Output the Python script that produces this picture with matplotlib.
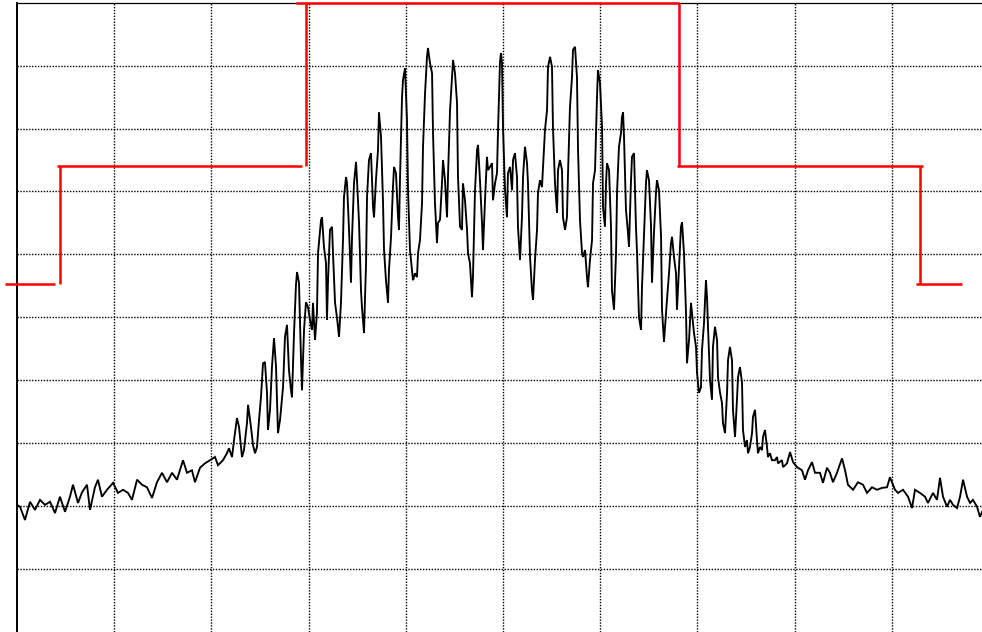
import matplotlib
matplotlib.use("Agg")
import matplotlib.pyplot as plt
import numpy as np

# ---- Spectrum trace: frequency offset (MHz) and level (dBm) ----
freq_mhz = [
    -5.000, -4.969, -4.918, -4.866, -4.815, -4.763, -4.712, -4.660, -4.609, -4.558,
    -4.506, -4.455, -4.424, -4.372, -4.331, -4.280, -4.249, -4.198, -4.167, -4.126,
    -4.074, -4.012, -3.961, -3.909, -3.858, -3.817, -3.765, -3.714, -3.663, -3.611,
    -3.560, -3.508, -3.457, -3.405, -3.354, -3.292, -3.251, -3.200, -3.169, -3.117,
    -3.066, -3.014, -2.963, -2.932, -2.881, -2.840, -2.819, -2.788, -2.767, -2.737,
    -2.716, -2.685, -2.665, -2.634, -2.623, -2.593, -2.572, -2.551, -2.531, -2.510,
    -2.490, -2.469, -2.449, -2.428, -2.418, -2.397, -2.377, -2.356, -2.335, -2.315,
    -2.294, -2.263, -2.243, -2.222, -2.202, -2.181, -2.171, -2.150, -2.130, -2.119,
    -2.099, -2.078, -2.068, -2.047, -2.027, -2.006, -1.986, -1.965, -1.955, -1.934,
    -1.914, -1.903, -1.872, -1.862, -1.842, -1.821, -1.811, -1.800, -1.780, -1.759,
    -1.749, -1.728, -1.708, -1.687, -1.667, -1.646, -1.636, -1.615, -1.605, -1.584,
    -1.564, -1.553, -1.533, -1.512, -1.502, -1.481, -1.461, -1.451, -1.430, -1.409,
    -1.399, -1.379, -1.358, -1.337, -1.327, -1.307, -1.286, -1.276, -1.255, -1.235,
    -1.224, -1.204, -1.183, -1.173, -1.152, -1.132, -1.121, -1.101, -1.080, -1.070,
    -1.060, -1.039, -1.029, -1.008, -0.988, -0.977, -0.957, -0.936, -0.926, -0.905,
    -0.885, -0.874, -0.854, -0.833, -0.823, -0.802, -0.782, -0.772, -0.751, -0.730,
    -0.720, -0.700, -0.679, -0.669, -0.648, -0.628, -0.617, -0.597, -0.576, -0.566,
    -0.545, -0.525, -0.514, -0.494, -0.473, -0.463, -0.442, -0.422, -0.412, -0.391,
    -0.370, -0.360, -0.340, -0.319, -0.309, -0.288, -0.267, -0.257, -0.237, -0.216,
    -0.206, -0.185, -0.165, -0.154, -0.134, -0.113, -0.103, -0.082, -0.062, -0.051,
    -0.031, -0.021, -0.010, 0.000, 0.021, 0.041, 0.051, 0.072, 0.093, 0.103,
    0.123, 0.144, 0.154, 0.175, 0.195, 0.206, 0.226, 0.247, 0.257, 0.278,
    0.298, 0.309, 0.329, 0.350, 0.360, 0.381, 0.401, 0.412, 0.432, 0.453,
    0.463, 0.484, 0.504, 0.514, 0.535, 0.556, 0.566, 0.586, 0.607, 0.617,
    0.638, 0.658, 0.669, 0.689, 0.710, 0.720, 0.741, 0.761, 0.772, 0.792,
    0.813, 0.823, 0.844, 0.864, 0.874, 0.895, 0.916, 0.926, 0.947, 0.967,
    0.977, 0.998, 1.019, 1.029, 1.049, 1.060, 1.070, 1.091, 1.111, 1.121,
    1.142, 1.163, 1.173, 1.193, 1.214, 1.224, 1.235, 1.245, 1.265, 1.286,
    1.296, 1.317, 1.327, 1.348, 1.368, 1.379, 1.399, 1.420, 1.430, 1.451,
    1.471, 1.481, 1.502, 1.523, 1.533, 1.553, 1.574, 1.584, 1.605, 1.626,
    1.636, 1.656, 1.677, 1.687, 1.708, 1.728, 1.739, 1.759, 1.780, 1.790,
    1.811, 1.831, 1.842, 1.862, 1.883, 1.893, 1.914, 1.934, 1.944, 1.965,
    1.986, 1.996, 2.016, 2.037, 2.047, 2.068, 2.088, 2.099, 2.109, 2.130,
    2.150, 2.160, 2.181, 2.202, 2.212, 2.233, 2.253, 2.263, 2.284, 2.305,
    2.315, 2.335, 2.356, 2.366, 2.387, 2.407, 2.418, 2.438, 2.459, 2.469,
    2.490, 2.510, 2.521, 2.541, 2.562, 2.572, 2.593, 2.613, 2.623, 2.644,
    2.665, 2.675, 2.695, 2.716, 2.726, 2.747, 2.767, 2.798, 2.819, 2.829,
    2.870, 2.881, 2.922, 2.953, 2.984, 3.025, 3.076, 3.107, 3.138, 3.179,
    3.210, 3.261, 3.292, 3.333, 3.364, 3.395, 3.436, 3.488, 3.519, 3.549,
    3.601, 3.652, 3.704, 3.745, 3.796, 3.848, 3.899, 3.951, 3.981, 4.033,
    4.064, 4.115, 4.167, 4.208, 4.239, 4.290, 4.342, 4.372, 4.424, 4.465,
    4.496, 4.527, 4.568, 4.599, 4.630, 4.671, 4.702, 4.733, 4.774, 4.805,
    4.835, 4.877, 4.907, 4.938,
]
level_dbm = [
    -79.8, -80.1, -82.2, -79.3, -80.6, -79.0, -79.8, -79.3, -81.1, -78.5,
    -80.9, -78.5, -76.6, -79.5, -77.8, -76.6, -80.6, -77.0, -75.8, -78.5,
    -77.4, -76.3, -77.9, -77.4, -77.9, -79.0, -75.8, -76.6, -77.0, -78.7,
    -76.2, -74.7, -76.2, -74.7, -75.8, -72.7, -74.7, -74.3, -76.2, -73.9,
    -73.2, -72.7, -72.2, -73.5, -72.7, -71.6, -70.8, -72.2, -69.5, -66.0,
    -67.4, -72.2, -71.1, -66.8, -63.9, -67.4, -70.3, -71.6, -70.6, -66.3,
    -62.7, -57.3, -57.1, -62.0, -67.9, -64.7, -57.9, -53.3, -57.9, -68.4,
    -66.3, -61.1, -53.1, -51.2, -58.4, -61.6, -62.7, -52.5, -44.9, -42.8,
    -44.5, -56.8, -61.6, -52.0, -47.6, -48.4, -50.4, -52.0, -47.7, -53.6,
    -49.3, -39.8, -34.5, -34.1, -38.8, -41.4, -50.4, -44.1, -36.1, -35.6,
    -39.8, -47.7, -50.0, -53.1, -47.7, -37.7, -30.9, -27.7, -28.7, -36.1,
    -44.5, -37.2, -28.7, -25.3, -28.2, -35.0, -45.7, -48.4, -52.5, -41.4,
    -30.9, -25.0, -23.9, -32.5, -34.1, -28.2, -23.4, -17.4, -21.3, -31.4,
    -39.3, -44.1, -47.7, -42.5, -37.2, -29.3, -26.1, -27.1, -34.1, -36.1,
    -28.2, -15.0, -12.3, -10.4, -18.6, -29.8, -39.3, -42.5, -44.1, -43.0,
    -43.6, -39.8, -37.7, -31.8, -22.9, -14.4, -8.6, -7.2, -9.6, -11.2,
    -20.7, -31.8, -38.2, -35.0, -34.5, -28.7, -25.0, -28.2, -34.1, -27.7,
    -17.1, -11.8, -9.1, -11.2, -15.9, -27.7, -35.6, -36.1, -28.7, -31.4,
    -36.1, -39.8, -41.4, -46.8, -43.6, -29.8, -23.4, -22.6, -28.2, -35.0,
    -39.3, -31.4, -24.5, -26.6, -26.1, -25.5, -31.4, -28.7, -27.1, -20.2,
    -9.4, -8.0, -9.6, -19.8, -29.8, -34.1, -27.1, -26.1, -29.8, -25.0,
    -23.9, -27.7, -35.6, -40.9, -34.1, -27.7, -22.9, -25.5, -28.7, -40.4,
    -45.7, -47.2, -40.9, -36.1, -30.2, -28.2, -29.3, -26.1, -20.2, -17.1,
    -10.2, -8.6, -10.2, -19.8, -28.7, -33.4, -26.6, -25.0, -26.6, -34.1,
    -36.1, -34.1, -27.1, -16.6, -11.8, -7.5, -7.0, -11.8, -23.4, -34.5,
    -39.8, -40.4, -39.3, -43.6, -45.2, -40.9, -37.7, -28.7, -26.6, -15.0,
    -10.7, -12.8, -19.8, -32.5, -35.6, -28.7, -25.5, -26.6, -35.6, -45.7,
    -48.8, -39.8, -30.2, -22.9, -20.7, -18.2, -17.4, -21.3, -32.9, -36.6,
    -38.8, -28.2, -24.5, -23.9, -35.6, -39.8, -50.0, -52.0, -45.2, -36.6,
    -28.7, -26.6, -28.2, -35.6, -44.5, -36.6, -30.2, -28.2, -29.8, -37.2,
    -48.8, -53.9, -49.3, -47.2, -43.0, -38.2, -37.2, -40.4, -43.0, -48.8,
    -42.0, -35.6, -34.9, -39.8, -49.3, -57.3, -53.6, -47.7, -49.3, -52.5,
    -54.7, -58.8, -62.0, -61.1, -55.2, -50.9, -44.1, -46.8, -51.5, -60.0,
    -63.1, -54.7, -51.5, -53.6, -59.5, -62.0, -63.6, -66.8, -68.4, -62.0,
    -56.8, -54.7, -56.8, -64.7, -69.0, -63.1, -59.5, -57.9, -60.4, -67.9,
    -70.6, -69.5, -71.6, -70.6, -68.4, -65.8, -64.7, -69.5, -71.6, -70.6,
    -71.1, -69.0, -67.9, -70.6, -72.2, -71.6, -72.7, -72.7, -72.2, -73.2,
    -72.7, -73.8, -73.2, -71.4, -73.0, -73.8, -74.3, -75.8, -74.3, -73.0,
    -74.7, -74.7, -76.3, -73.9, -74.7, -76.2, -74.7, -72.4, -74.3, -76.6,
    -77.4, -76.2, -76.6, -77.9, -77.0, -77.4, -77.1, -77.0, -75.4, -77.4,
    -77.9, -77.4, -78.5, -80.3, -77.4, -77.9, -78.5, -79.5, -77.9, -79.0,
    -75.5, -78.5, -80.1, -79.0, -79.8, -80.3, -78.5, -75.8, -78.5, -79.5,
    -79.0, -80.1, -81.7, -80.6,
]

# ---- Spectrum emission mask (red): horizontal and vertical pieces ----
mask_h_start = [-5.123, -4.588, -2.130, 1.790, 4.249]
mask_h_stop = [-4.609, -2.068, 1.811, 4.321, 4.722]
mask_h_level = [-44.7, -25.9, 0.0, -25.9, -44.7]
mask_v_freq = [-4.558, -2.027, 1.811, 4.290]
mask_v_low = [-44.7, -25.9, -25.9, -44.7]
mask_v_high = [-25.9, 0.0, 0.0, -25.9]

x_grid = [-4, -3, -2, -1, 0, 1, 2, 3, 4]
y_grid = [-90, -80, -70, -60, -50, -40, -30, -20, -10]

W, H, DPI = 982, 632, 100
fig = plt.figure(figsize=(W / DPI, H / DPI), dpi=DPI)
fig.patch.set_facecolor("white")
ax = fig.add_axes([17 / W, 0.0, 972 / W, (H - 2.7) / H])
ax.set_xlim(-5, 5)
ax.set_ylim(-100, 0)
ax.set_facecolor("white")

for xv in x_grid:
    ax.axvline(xv, color="black", lw=1.0, ls=(0, (1, 1.1)), zorder=1)
for yv in y_grid:
    ax.axhline(yv, color="black", lw=1.0, ls=(0, (1, 1.1)), zorder=1)

ax.plot(freq_mhz, level_dbm, color="black", lw=1.35, zorder=3,
        solid_joinstyle="miter")

for s, e, lv in zip(mask_h_start, mask_h_stop, mask_h_level):
    ax.plot([s, e], [lv, lv], color="#ff0000", lw=1.8, zorder=4,
            clip_on=False, solid_capstyle="butt")
for f, lo, hi in zip(mask_v_freq, mask_v_low, mask_v_high):
    ax.plot([f, f], [lo, hi], color="#ff0000", lw=1.8, zorder=4,
            clip_on=False, solid_capstyle="butt")

ax.set_xticks([])
ax.set_yticks([])
for side in ("right", "bottom"):
    ax.spines[side].set_visible(False)
ax.spines["left"].set_linewidth(1.4)
ax.spines["top"].set_linewidth(0.9)
ax.spines["left"].set_color("black")
ax.spines["top"].set_color("black")

fig.savefig("out.png", dpi=DPI, facecolor="white")
